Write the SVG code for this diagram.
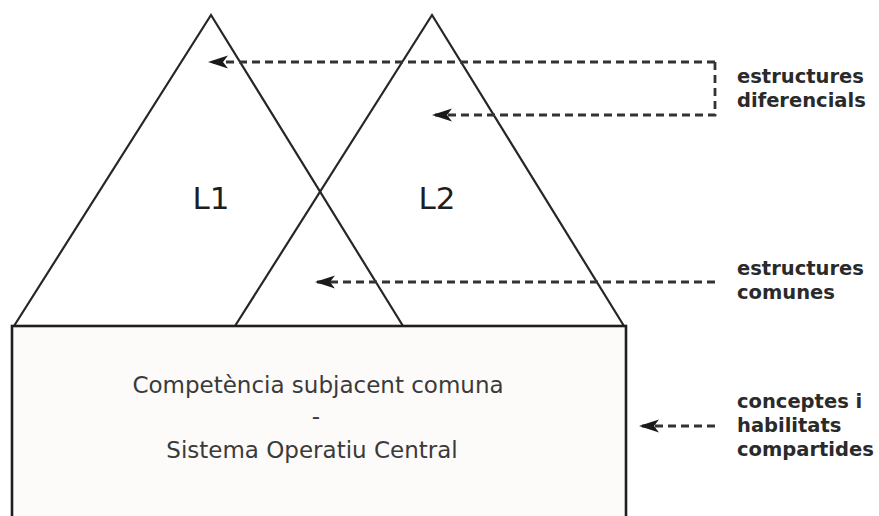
<svg xmlns="http://www.w3.org/2000/svg" width="879" height="516" viewBox="0 0 879 516">
  <style>
    .tri { fill: none; stroke: #262626; stroke-width: 2.2; stroke-linejoin: miter; }
    .box { fill: #fcfbf9; stroke: #1e1e1e; stroke-width: 2.6; }
    .main { font-family: "DejaVu Sans", Verdana, sans-serif; font-size: 23px; fill: #3a3a3a; text-anchor: middle; }
    .lang { font-family: "DejaVu Sans", Verdana, sans-serif; font-size: 31px; fill: #1e1e1e; text-anchor: middle; }
    .lbl { font-family: "DejaVu Sans", Verdana, sans-serif; font-weight: bold; font-size: 19.5px; fill: #2a2a2a; }
    .dash { fill: none; stroke: #333; stroke-width: 2.8; stroke-dasharray: 8 5; }
  </style>
  <defs>
    <marker id="ah" markerUnits="userSpaceOnUse" markerWidth="24" markerHeight="16" viewBox="-1 -8 24 16" refX="20" refY="0" orient="auto">
      <path d="M0,-6.5 L20,0 L0,6.5 L5,0 Z" fill="#1a1a1a"/>
    </marker>
  </defs>
  <rect width="879" height="516" fill="#ffffff"/>
  <g id="L1">
    <polyline class="tri" points="14,326 211,15 403,326"/>
    <text class="lang" x="211" y="209">L1</text>
  </g>
  <g id="L2">
    <polyline class="tri" points="235,326 432,15 624,326"/>
    <text class="lang" x="437" y="209">L2</text>
  </g>
  <g id="csc">
    <rect class="box" x="12" y="326" width="614" height="210"/>
    <text class="main" x="318" y="393">Competència subjacent comuna</text>
    <text class="main" x="316" y="424">-</text>
    <text class="main" x="312" y="458">Sistema Operatiu Central</text>
  </g>
  <g id="connectors">
    <path class="dash" d="M715,62 H208" marker-end="url(#ah)"/>
    <path class="dash" d="M715,62 V115 H432" marker-end="url(#ah)"/>
    <path class="dash" d="M715,282 H315" marker-end="url(#ah)"/>
    <path class="dash" d="M715,426 H639" marker-end="url(#ah)"/>
  </g>
  <g id="lbl-diferencials">
    <text class="lbl" x="737" y="83">estructures</text>
    <text class="lbl" x="737" y="107">diferencials</text>
  </g>
  <g id="lbl-comunes">
    <text class="lbl" x="737" y="275">estructures</text>
    <text class="lbl" x="737" y="299">comunes</text>
  </g>
  <g id="lbl-compartides">
    <text class="lbl" x="737" y="408">conceptes i</text>
    <text class="lbl" x="737" y="432">habilitats</text>
    <text class="lbl" x="737" y="456">compartides</text>
  </g>
</svg>
